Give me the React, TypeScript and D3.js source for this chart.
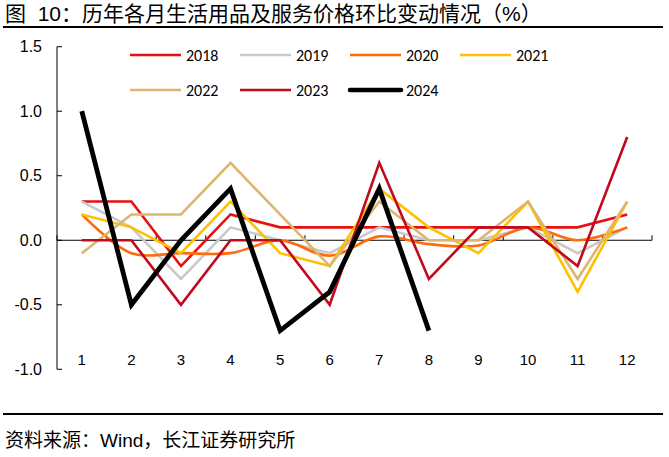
import { useEffect, useRef } from "react";
import * as d3 from "d3";

const months = ["1", "2", "3", "4", "5", "6", "7", "8", "9", "10", "11", "12"];
const yTicks = [1.5, 1.0, 0.5, 0.0, -0.5, -1.0];

const s2018 = [0.3, 0.3, -0.2, 0.2, 0.1, 0.1, 0.1, 0.1, 0.1, 0.1, 0.1, 0.2];
const s2019 = [0.3, 0.1, -0.3, 0.1, 0.0, -0.1, 0.1, 0.0, 0.0, 0.1, -0.1, 0.1];
const s2020 = [0.2, -0.1, -0.1, -0.1, 0.0, -0.12, 0.03, -0.03, -0.04, 0.1, 0.0, 0.1];
const s2021 = [0.2, 0.1, -0.1, 0.3, -0.1, -0.2, 0.4, 0.1, -0.1, 0.3, -0.4, 0.3];
const s2022 = [-0.1, 0.2, 0.2, 0.6, 0.2, -0.2, 0.3, 0.0, 0.0, 0.3, -0.3, 0.3];
const s2023 = [0.0, 0.0, -0.5, 0.0, 0.0, -0.5, 0.6, -0.3, 0.1, 0.1, -0.2, 0.8];
const s2024 = [1.0, -0.5, 0.0, 0.4, -0.7, -0.4, 0.4, -0.7];

interface Series {
  name: string;
  values: number[];
  color: string;
  width: number;
  smooth: boolean;
}

const series: Series[] = [
  { name: "2018", values: s2018, color: "#E8100F", width: 2.6, smooth: false },
  { name: "2019", values: s2019, color: "#C9C9C9", width: 2.6, smooth: false },
  { name: "2020", values: s2020, color: "#FF6A0D", width: 2.6, smooth: true },
  { name: "2021", values: s2021, color: "#FFC000", width: 2.6, smooth: false },
  { name: "2022", values: s2022, color: "#DDB56E", width: 2.6, smooth: false },
  { name: "2023", values: s2023, color: "#C00A1E", width: 2.6, smooth: false },
  { name: "2024", values: s2024, color: "#000000", width: 4.8, smooth: false },
];

const W = 669;
const H = 457;
const latin = "'Liberation Sans', Arial, 'Noto Sans CJK SC', sans-serif";

export default function App() {
  const svgRef = useRef<SVGSVGElement>(null);

  useEffect(() => {
    if (!svgRef.current) return;
    const svg = d3.select(svgRef.current);
    svg.selectAll("*").remove();

    const left = 57;
    const right = 652;
    const top = 46.7;
    const bottom = 369.3;

    const x = d3.scaleBand().domain(months).range([left, right]);
    const y = d3.scaleLinear().domain([-1, 1.5]).range([bottom, top]);
    const cx = (m: string) => (x(m) as number) + x.bandwidth() / 2;

    // title + rules
    svg.append("text")
      .attr("x", 5)
      .attr("y", 21)
      .style("font-family", latin)
      .style("font-size", "21px")
      .style("white-space", "pre")
      .attr("fill", "#000")
      .text("图  10：历年各月生活用品及服务价格环比变动情况（%）");
    svg.append("line")
      .attr("x1", 3).attr("x2", 663).attr("y1", 27).attr("y2", 27)
      .attr("stroke", "#000").attr("stroke-width", 2.2);
    svg.append("line")
      .attr("x1", 3).attr("x2", 663).attr("y1", 414).attr("y2", 414)
      .attr("stroke", "#000").attr("stroke-width", 2.2);
    svg.append("text")
      .attr("x", 5)
      .attr("y", 447)
      .style("font-family", latin)
      .style("font-size", "19px")
      .attr("fill", "#000")
      .text("资料来源：Wind，长江证券研究所");

    // y axis
    const ga = svg.append("g");
    ga.append("line")
      .attr("x1", left).attr("x2", left).attr("y1", top).attr("y2", bottom)
      .attr("stroke", "#000").attr("stroke-width", 1);
    yTicks.forEach((t) => {
      ga.append("line")
        .attr("x1", left).attr("x2", left + 5).attr("y1", y(t)).attr("y2", y(t))
        .attr("stroke", "#000");
      ga.append("text")
        .attr("x", 42)
        .attr("y", y(t))
        .attr("dy", "0.35em")
        .attr("text-anchor", "end")
        .style("font-family", latin)
        .style("font-size", "16px")
        .text(d3.format(".1f")(t).replace("−", "-"));
    });

    // x axis on zero
    ga.append("line")
      .attr("x1", left).attr("x2", right).attr("y1", y(0)).attr("y2", y(0))
      .attr("stroke", "#000").attr("stroke-width", 1);
    d3.range(months.length + 1).forEach((i) => {
      const px = left + i * x.step();
      ga.append("line")
        .attr("x1", px).attr("x2", px).attr("y1", y(0)).attr("y2", y(0) - 5)
        .attr("stroke", "#000");
    });
    months.forEach((m) => {
      ga.append("text")
        .attr("x", cx(m))
        .attr("y", 360)
        .attr("dy", "0.35em")
        .attr("text-anchor", "middle")
        .style("font-family", latin)
        .style("font-size", "15px")
        .text(m);
    });

    // lines
    const gl = svg.append("g");
    series.forEach((s) => {
      const line = d3
        .line<number>()
        .x((_, i) => cx(months[i]))
        .y((d) => y(d))
        .curve(s.smooth ? d3.curveCatmullRom.alpha(0.5) : d3.curveLinear);
      gl.append("path")
        .attr("d", line(s.values))
        .attr("fill", "none")
        .attr("stroke", s.color)
        .attr("stroke-width", s.width)
        .attr("stroke-linejoin", "miter");
    });

    // legend
    const gLeg = svg.append("g");
    series.forEach((s, i) => {
      const col = i % 4;
      const row = Math.floor(i / 4);
      const lx = 130 + col * 110;
      const ly = 55 + row * 35;
      gLeg.append("line")
        .attr("x1", lx).attr("x2", lx + 51).attr("y1", ly).attr("y2", ly)
        .attr("stroke", s.color)
        .attr("stroke-width", s.name === "2024" ? 4.5 : 2.6)
        .attr("stroke-linecap", s.name === "2024" ? "round" : "butt");
      gLeg.append("text")
        .attr("x", lx + 56)
        .attr("y", ly)
        .attr("dy", "0.35em")
        .style("font-family", "Calibri, Carlito, 'Liberation Sans', sans-serif")
        .style("font-size", "16px")
        .text(s.name);
    });
  }, []);

  return (
    <svg
      ref={svgRef}
      width={W}
      height={H}
      style={{ position: "absolute", left: 0, top: 0, background: "#fff" }}
    />
  );
}
